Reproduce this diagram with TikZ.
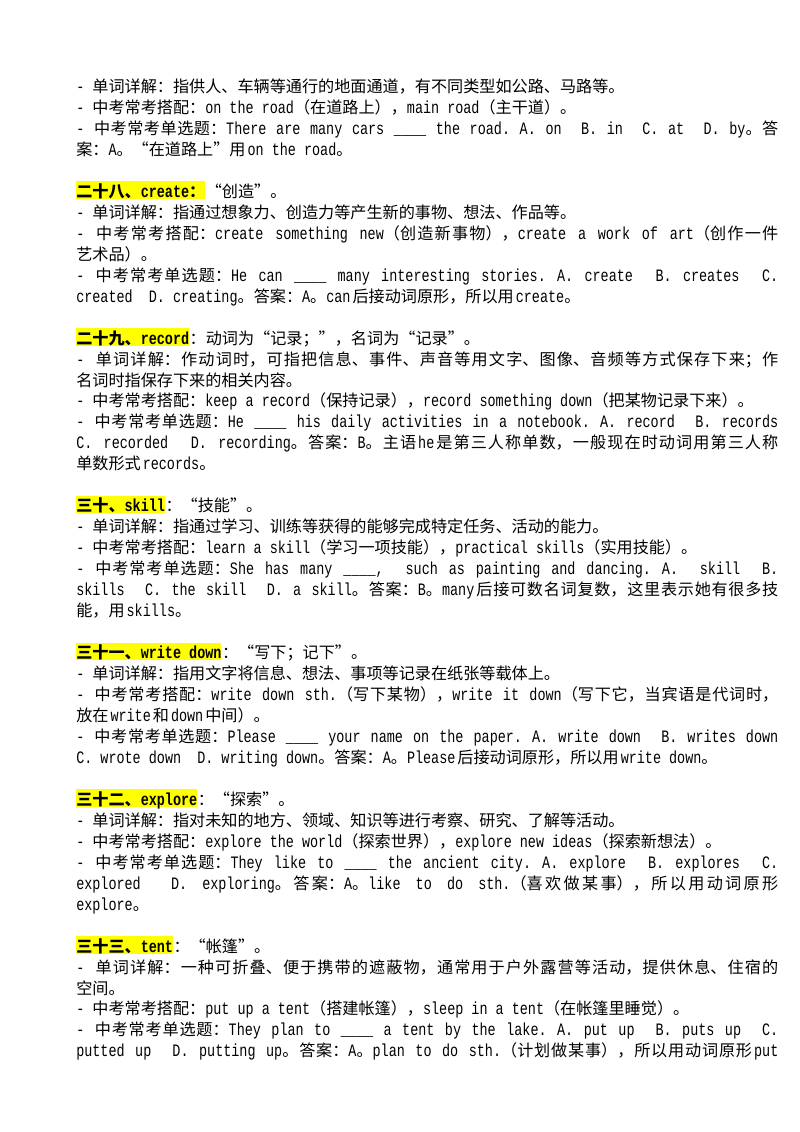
\documentclass[tikz,border=0pt]{standalone}
\usepackage{fontspec}
\usetikzlibrary{positioning}
\newfontfamily\enfam[Scale=1.08, FakeStretch=0.772]{Liberation Mono}
\newfontfamily\zhfam[RawFeature=+fwid]{Noto Sans CJK SC}
\definecolor{hilite}{RGB}{255,255,0}
\newcommand\pagefont{\fontsize{12pt}{15.6pt}\selectfont\enfam\frenchspacing}
\newcommand\fullline[1]{\parbox[b]{522.4pt}{\tolerance=10000\parfillskip=0pt\relax #1}}
% chinese and latin pieces get their own font
\newcount\hanchar
\hanchar="4E00
\loop\ifnum\hanchar<"A000 \XeTeXcharclass\hanchar=1 \advance\hanchar by 1 \repeat
\XeTeXcharclass`（=2 \XeTeXcharclass`“=2
\XeTeXcharclass`）=3 \XeTeXcharclass`”=3 \XeTeXcharclass`，=3 \XeTeXcharclass`。=3
\XeTeXcharclass`：=3 \XeTeXcharclass`；=3 \XeTeXcharclass`、=3
\XeTeXinterchartoks 0 1 = {\hskip 1.5pt\zhfam}
\XeTeXinterchartoks 0 2 = {\zhfam}
\XeTeXinterchartoks 0 3 = {\zhfam}
\XeTeXinterchartoks 1 0 = {\hskip 1.5pt\enfam}
\XeTeXinterchartoks 2 0 = {\enfam}
\XeTeXinterchartoks 3 0 = {\enfam}
\XeTeXinterchartoks 4095 0 = {\enfam}
\XeTeXinterchartoks 4095 1 = {\zhfam}
\XeTeXinterchartoks 4095 2 = {\zhfam}
\XeTeXinterchartoks 4095 3 = {\zhfam}
\XeTeXlinebreaklocale "zh"
\XeTeXlinebreakskip=0pt plus 1pt
\XeTeXinterchartokenstate=1
\begin{document}
\begin{tikzpicture}[x=0.7441pt, y=-0.7441pt,
    entry/.style = {anchor=base west, inner sep=0pt, font=\pagefont},
    row/.style = {entry, below=15.6pt of #1.base west, anchor=base west},
    gap/.style = {entry, below=31.2pt of #1.base west, anchor=base west},
    head/.style = {fill=hilite, font=\pagefont\bfseries, text height=11.9pt, text depth=1.1pt}]
\fill[white] (0,0) rectangle (800,1132);
\useasboundingbox (0,0) rectangle (800,1132);
% road
\node[entry] (r1) at (76,92.5) {- 单词详解：指供人、车辆等通行的地面通道，有不同类型如公路、马路等。};
\node[row=r1] (r2) {- 中考常考搭配：on the road（在道路上），main road（主干道）。};
\node[row=r2] (r3) {\fullline{- 中考常考单选题：There are many cars \_\_\_\_ the road. A. on~ B. in~ C. at~ D. by。答}};
\node[row=r3] (r4) {案：A。“在道路上”用on the road。};
% create
\node[gap=r4, head] (h28) {二十八、create：};
\node[entry] (h28b) at (h28.base east) {“创造”。};
\node[row=h28] (c1) {- 单词详解：指通过想象力、创造力等产生新的事物、想法、作品等。};
\node[row=c1] (c2) {\fullline{- 中考常考搭配：create something new（创造新事物），create a work of art（创作一件}};
\node[row=c2] (c3) {艺术品）。};
\node[row=c3] (c4) {\fullline{- 中考常考单选题：He can \_\_\_\_ many interesting stories. A. create~ B. creates~ C.}};
\node[row=c4] (c5) {created~ D. creating。答案：A。can后接动词原形，所以用create。};
% record
\node[gap=c5, head] (h29) {二十九、record};
\node[entry] (h29b) at (h29.base east) {：动词为“记录；”，名词为“记录”。};
\node[row=h29] (rc1) {\fullline{- 单词详解：作动词时，可指把信息、事件、声音等用文字、图像、音频等方式保存下来；作}};
\node[row=rc1] (rc2) {名词时指保存下来的相关内容。};
\node[row=rc2] (rc3) {- 中考常考搭配：keep a record（保持记录），record something down（把某物记录下来）。};
\node[row=rc3] (rc4) {\fullline{- 中考常考单选题：He \_\_\_\_ his daily activities in a notebook. A. record~ B. records}};
\node[row=rc4] (rc5) {\fullline{C. recorded~ D. recording。答案：B。主语he是第三人称单数，一般现在时动词用第三人称}};
\node[row=rc5] (rc6) {单数形式records。};
% skill
\node[gap=rc6, head] (h30) {三十、skill};
\node[entry] (h30b) at (h30.base east) {：“技能”。};
\node[row=h30] (s1) {- 单词详解：指通过学习、训练等获得的能够完成特定任务、活动的能力。};
\node[row=s1] (s2) {- 中考常考搭配：learn a skill（学习一项技能），practical skills（实用技能）。};
\node[row=s2] (s3) {\fullline{- 中考常考单选题：She has many \_\_\_\_,~ such as painting and dancing. A.~ skill~ B.}};
\node[row=s3] (s4) {\fullline{skills~ C. the skill~ D. a skill。答案：B。many后接可数名词复数，这里表示她有很多技}};
\node[row=s4] (s5) {能，用skills。};
% write down
\node[gap=s5, head] (h31) {三十一、write down};
\node[entry] (h31b) at (h31.base east) {：“写下；记下”。};
\node[row=h31] (w1) {- 单词详解：指用文字将信息、想法、事项等记录在纸张等载体上。};
\node[row=w1] (w2) {\fullline{- 中考常考搭配：write down sth.（写下某物），write it down（写下它，当宾语是代词时，}};
\node[row=w2] (w3) {放在write和down中间）。};
\node[row=w3] (w4) {\fullline{- 中考常考单选题：Please \_\_\_\_ your name on the paper. A. write down~ B. writes down}};
\node[row=w4] (w5) {C. wrote down~ D. writing down。答案：A。Please后接动词原形，所以用write down。};
% explore
\node[gap=w5, head] (h32) {三十二、explore};
\node[entry] (h32b) at (h32.base east) {：“探索”。};
\node[row=h32] (e1) {- 单词详解：指对未知的地方、领域、知识等进行考察、研究、了解等活动。};
\node[row=e1] (e2) {- 中考常考搭配：explore the world（探索世界），explore new ideas（探索新想法）。};
\node[row=e2] (e3) {\fullline{- 中考常考单选题：They like to \_\_\_\_ the ancient city. A. explore~ B. explores~ C.}};
\node[row=e3] (e4) {\fullline{explored~ D. exploring。答案：A。like to do sth.（喜欢做某事），所以用动词原形}};
\node[row=e4] (e5) {explore。};
% tent
\node[gap=e5, head] (h33) {三十三、tent};
\node[entry] (h33b) at (h33.base east) {：“帐篷”。};
\node[row=h33] (t1) {\fullline{- 单词详解：一种可折叠、便于携带的遮蔽物，通常用于户外露营等活动，提供休息、住宿的}};
\node[row=t1] (t2) {空间。};
\node[row=t2] (t3) {- 中考常考搭配：put up a tent（搭建帐篷），sleep in a tent（在帐篷里睡觉）。};
\node[row=t3] (t4) {\fullline{- 中考常考单选题：They plan to \_\_\_\_ a tent by the lake. A. put up~ B. puts up~ C.}};
\node[row=t4] (t5) {\fullline{putted up~ D. putting up。答案：A。plan to do sth.（计划做某事），所以用动词原形put}};
\end{tikzpicture}
\end{document}
